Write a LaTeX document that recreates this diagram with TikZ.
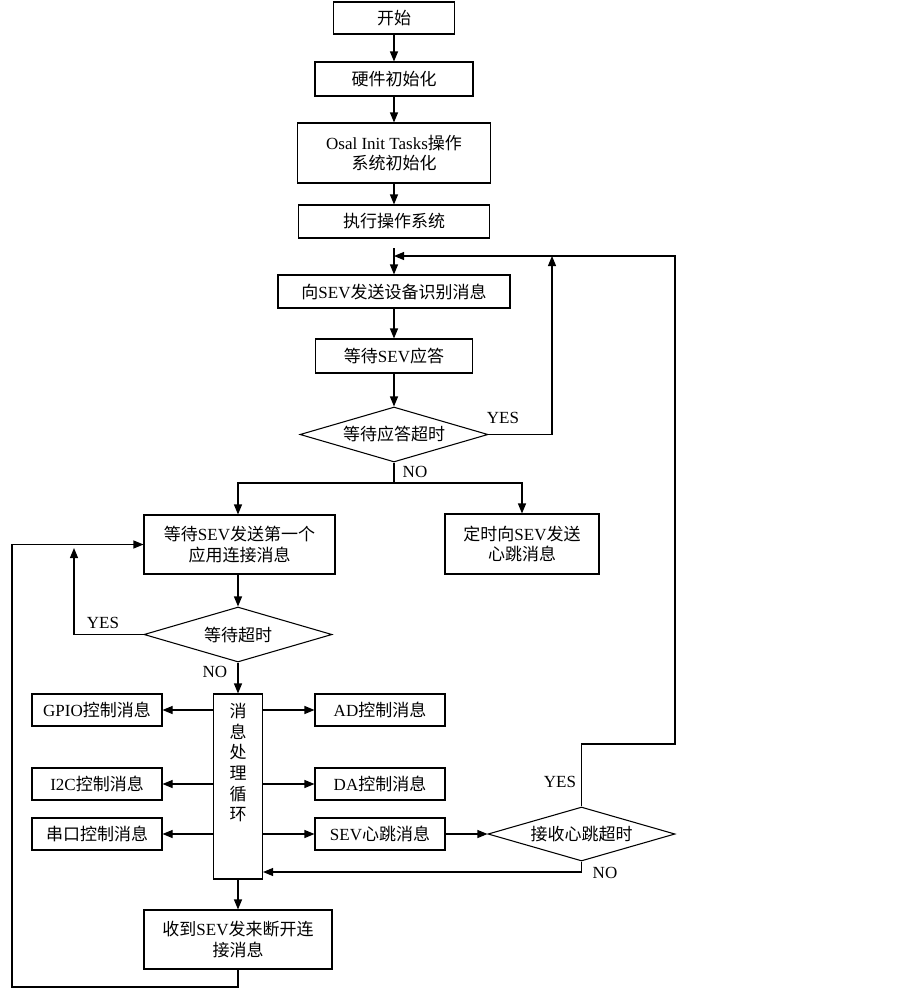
\documentclass[tikz,border=0pt]{standalone}
\usepackage{fontspec}
\setmainfont{Liberation Serif}
\newfontfamily\z{Noto Sans CJK SC}
\usetikzlibrary{shapes.geometric,arrows.meta}
\tikzset{
  txt/.style={font=\fontsize{12.75}{15.5}\selectfont},
  box/.style={draw, line width=0.8pt, align=center, inner sep=1pt, txt},
  dia/.style={draw, diamond, aspect=3.4, inner sep=0pt, line width=0.8pt, txt},
  arr/.style={line width=0.8pt, -{Triangle[length=7.5pt,width=6pt]}},
  ln/.style={line width=0.8pt},
  lbl/.style={font=\fontsize{12.75}{14}\selectfont, inner sep=0pt},
  small/.style={box, minimum width=97.5pt, minimum height=24pt}
}
\begin{document}
\begin{tikzpicture}[x=0.75pt,y=-0.75pt]
\useasboundingbox (0,0) rectangle (903,992);
% top column
\node[box, minimum width=90.75pt, minimum height=24pt] (start) at (394,18) {\z 开始};
\node[box, minimum width=118.5pt, minimum height=25.5pt] (hw) at (394,79) {\z 硬件初始化};
\node[box, minimum width=144.75pt, minimum height=45pt] (osal) at (394,153) {Osal Init Tasks{\z 操作}\\{\z 系统初始化}};
\node[box, minimum width=143.25pt, minimum height=24.75pt] (exec) at (394,221.5) {\z 执行操作系统};
\node[box, minimum width=174pt, minimum height=24.75pt] (send) at (394,291.5) {{\z 向}SEV{\z 发送设备识别消息}};
\node[box, minimum width=117.75pt, minimum height=25.5pt] (wait) at (394,356) {{\z 等待}SEV{\z 应答}};
\node[dia, minimum width=141pt, minimum height=41.25pt] (d1) at (394,434.5) {\z 等待应答超时};
% second level
\node[box, minimum width=143.25pt, minimum height=44.25pt] (wfirst) at (239.5,544.5) {{\z 等待}SEV{\z 发送第一个}\\{\z 应用连接消息}};
\node[box, minimum width=115.5pt, minimum height=45pt] (timer) at (522,544) {{\z 定时向}SEV{\z 发送}\\{\z 心跳消息}};
\node[dia, minimum width=141pt, minimum height=41.25pt] (d2) at (238,634.5) {\z 等待超时};
% message loop
\node[draw, line width=0.8pt, minimum width=36.75pt, minimum height=138.75pt] (loop) at (238,786.5) {};
\node[txt, align=center, anchor=north, inner sep=0pt] (looptxt) at (238,703) {\z 消\\\z 息\\\z 处\\\z 理\\\z 循\\\z 环};
\node[small] (gpio) at (97,710) {GPIO{\z 控制消息}};
\node[small] (ad) at (380,710) {AD{\z 控制消息}};
\node[small] (i2c) at (97,784) {I2C{\z 控制消息}};
\node[small] (da) at (380,784) {DA{\z 控制消息}};
\node[small] (uart) at (97,834) {\z 串口控制消息};
\node[small] (sevhb) at (380,834) {SEV{\z 心跳消息}};
\node[dia, minimum width=140.25pt, minimum height=40.5pt] (d3) at (581.5,834) {\z 接收心跳超时};
\node[box, minimum width=141pt, minimum height=44.25pt] (recv) at (238,939.5) {{\z 收到}SEV{\z 发来断开连}\\{\z 接消息}};
% coordinates
\coordinate (s0) at (394,248);
\coordinate (j1) at (394,256);
\coordinate (up1) at (552,256);
\coordinate (r1) at (675,256);
\coordinate (r2) at (675,744);
\coordinate (b1) at (394,483);
\coordinate (y2) at (74,548);
\coordinate (l1) at (12,987);
\coordinate (n3) at (582,872);
% connectors
\draw[arr] (start) -- (hw);
\draw[arr] (hw) -- (osal);
\draw[arr] (osal) -- (exec);
\draw[arr] (s0) -- (send);
\draw[arr] (send) -- (wait);
\draw[arr] (wait) -- (d1);
\draw[arr] (d1.east) -| (up1);
\draw[arr] (d3.north) |- (r2) -- (r1) -- (j1);
\draw[ln] (d1.south) -- (b1);
\draw[arr] (b1) -| (wfirst.north -| d2);
\draw[arr] (b1) -| (timer.north);
\draw[arr] (wfirst.south -| d2) -- (d2.north);
\draw[arr] (d2.west) -| (y2);
\draw[arr] (recv.south) -- (recv.south |- l1) -- (l1) |- (wfirst.west);
\draw[arr] (d2) -- (loop);
\draw[arr] (loop.west |- gpio) -- (gpio);
\draw[arr] (loop.west |- i2c) -- (i2c);
\draw[arr] (loop.west |- uart) -- (uart);
\draw[arr] (loop.east |- ad) -- (ad);
\draw[arr] (loop.east |- da) -- (da);
\draw[arr] (loop.east |- sevhb) -- (sevhb);
\draw[arr] (sevhb) -- (d3);
\draw[arr] (d3.south) -- (d3.south |- n3) -- (loop.east |- n3);
\draw[arr] (loop) -- (recv);
% labels
\node[lbl] (t1) at (503,418) {YES};
\node[lbl] (t2) at (415,472) {NO};
\node[lbl] (t3) at (103,623) {YES};
\node[lbl] (t4) at (215,672) {NO};
\node[lbl] (t5) at (560,782) {YES};
\node[lbl] (t6) at (605,873) {NO};
\end{tikzpicture}
\end{document}
